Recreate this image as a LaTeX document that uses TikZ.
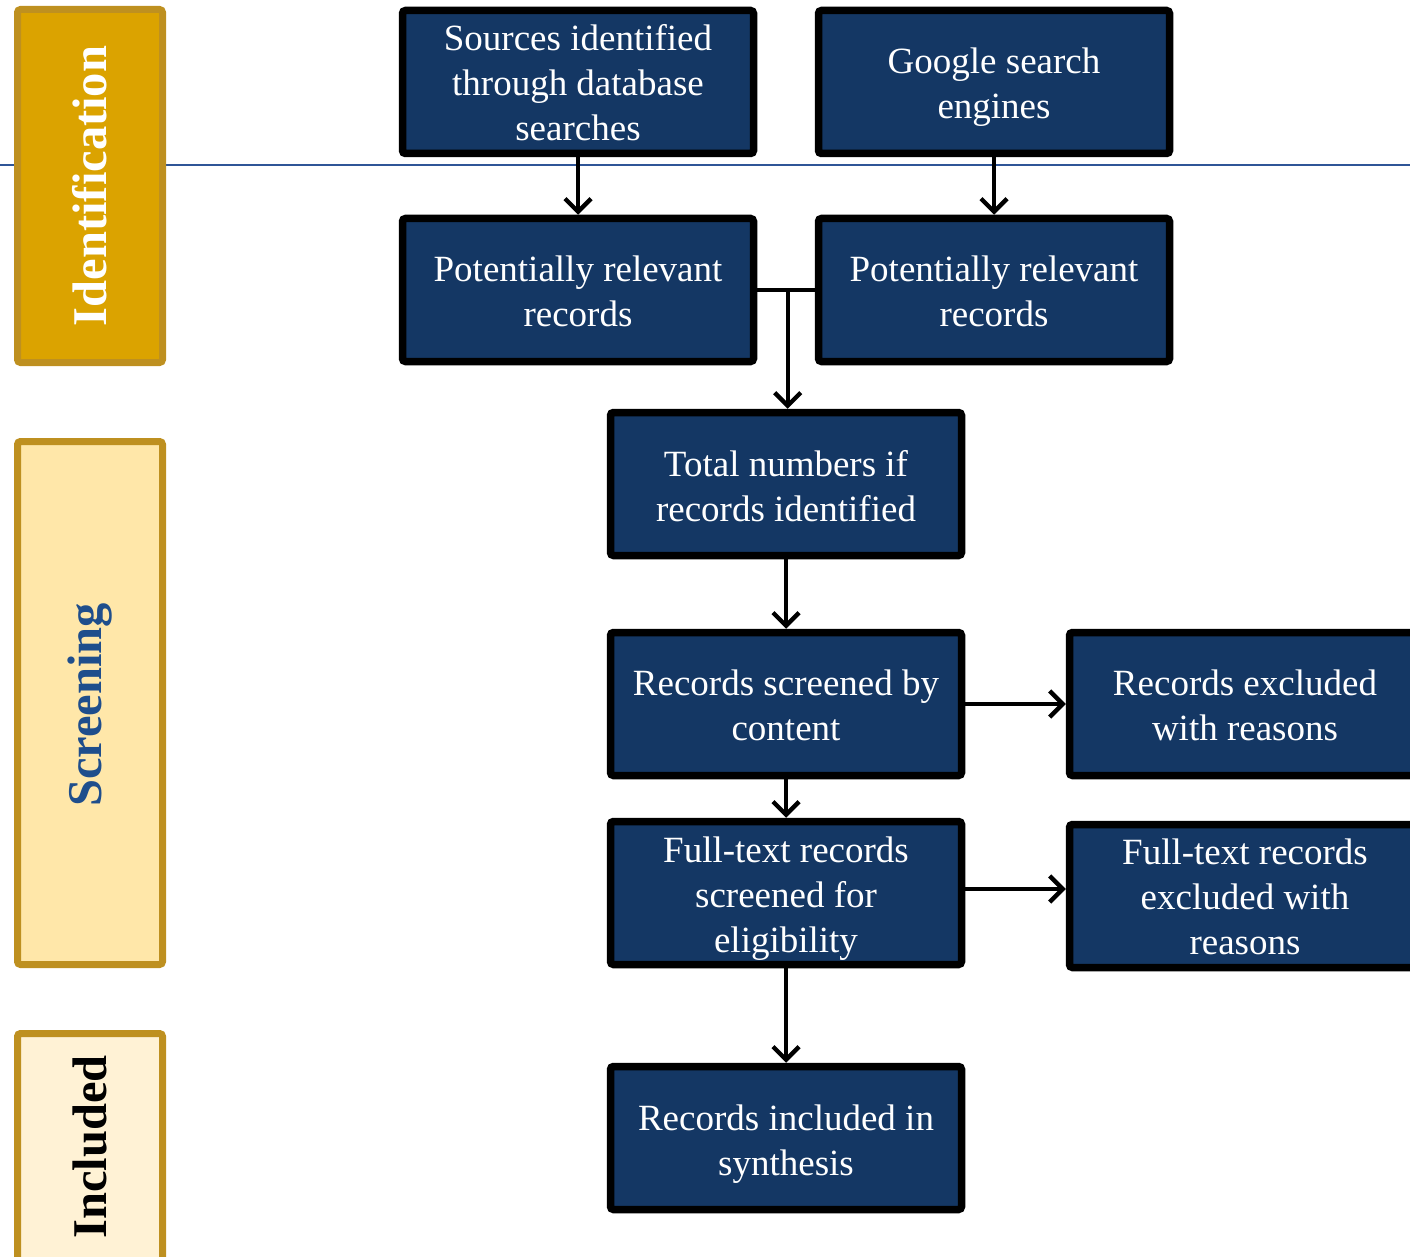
\documentclass[tikz,border=0pt]{standalone}
\usepackage{fontspec}
\setmainfont{Liberation Serif}
\usetikzlibrary{arrows.meta,calc}
\definecolor{navy}{HTML}{143764}
\definecolor{goldfill}{HTML}{DBA300}
\definecolor{goldedge}{HTML}{BE9020}
\definecolor{scrfill}{HTML}{FFE7A9}
\definecolor{incfill}{HTML}{FFF2D5}
\definecolor{scrtext}{HTML}{1F4E8C}
\definecolor{hline}{HTML}{2F5597}
\newcommand\tdown[1]{\rule{0pt}{\dimexpr 26pt+#1pt+#1pt\relax}}
\tikzset{
  flowbox/.style={draw=black, fill=navy, line width=7.5pt, rounded corners=3pt,
    minimum width=351pt, minimum height=143pt, text=white, align=center,
    inner sep=0pt, font=\fontsize{37}{45}\selectfont},
  sidebox/.style={draw=goldedge, line width=7pt, rounded corners=3pt,
    minimum width=145pt, inner sep=0pt},
  sidelabel/.style={rotate=90, font=\fontsize{48.5}{50}\selectfont\bfseries, inner sep=0pt},
  conn/.style={draw=black, line width=4.3pt},
  arr/.style={conn, -{Straight Barb[length=13pt,width=26pt,line width=4.3pt]}},
  sepline/.style={draw=hline, line width=2pt}
}
\begin{document}
\begin{tikzpicture}[x=1pt,y=-1pt]
\useasboundingbox (0,0) rectangle (1410,1257);
\draw[sepline] (0,165) -- (1410,165);
% side labels
\node[sidebox, fill=goldfill, minimum height=353pt] (idbox) at (90,186) {};
\node[sidelabel, text=white] (idlab) at (90,186) {Identification};
\node[sidebox, fill=scrfill, minimum height=523pt] (scbox) at (90,703) {};
\node[sidelabel, text=scrtext] (sclab) at (90,705) {Screening};
\node[sidebox, fill=incfill, minimum height=233pt] (inbox) at (90,1150) {};
\node[sidelabel, text=black] (inlab) at (90,1147) {Included};
% flow boxes
\node[flowbox] (src) at (578,82) {\tdown{1}Sources identified\\through database\\searches};
\node[flowbox] (goo) at (994,82) {\tdown{5}Google search\\engines};
\node[flowbox] (pr1) at (578,290) {\tdown{1}Potentially relevant\\records};
\node[flowbox] (pr2) at (994,290) {\tdown{1}Potentially relevant\\records};
\node[flowbox] (tot) at (786,484) {\tdown{2}Total numbers if\\records identified};
\node[flowbox] (scr) at (786,704) {\tdown{1}Records screened by\\content};
\node[flowbox] (exc) at (1245,704) {\tdown{1}Records excluded\\with reasons};
\node[flowbox] (ftr) at (786,893) {\tdown{5}Full-text records\\screened for\\eligibility};
\node[flowbox] (fte) at (1245,896) {\tdown{1}Full-text records\\excluded with\\reasons};
\node[flowbox] (inc) at (786,1138) {\tdown{6}Records included in\\synthesis};
% connectors
\draw[arr] (src.south) -- (pr1.north);
\draw[arr] (goo.south) -- (pr2.north);
\draw[conn] (pr1.east) -- (pr2.west);
\coordinate (join) at ($(pr1.east)!0.53!(pr2.west)$);
\draw[arr] (join) -- (join |- tot.north);
\draw[arr] (tot.south) -- (scr.north);
\draw[arr] (scr.south) -- (ftr.north);
\draw[arr] (ftr.south) -- (inc.north);
\draw[arr] (scr.east) -- (scr.east -| exc.west);
\draw[arr] (ftr.east |- 0,889) -- (exc.west |- 0,889);
\end{tikzpicture}
\end{document}
